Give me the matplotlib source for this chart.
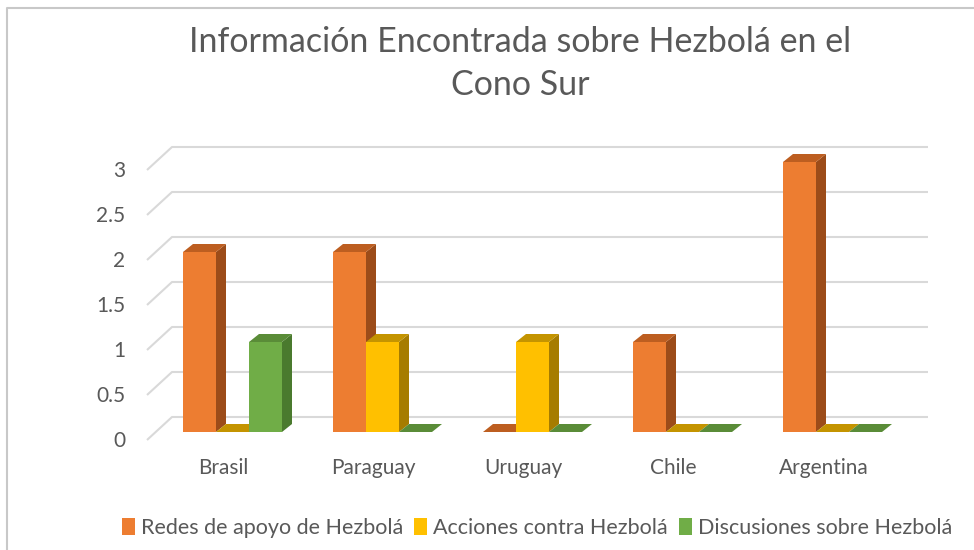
import matplotlib

matplotlib.use("Agg")
import matplotlib.pyplot as plt
from matplotlib.lines import Line2D
from matplotlib.patches import Patch

plt.rcParams["font.family"] = ["Lato", "DejaVu Sans"]

# --- data ---
categories = ["Brasil", "Paraguay", "Uruguay", "Chile", "Argentina"]
series_names = [
    "Redes de apoyo de Hezbolá",
    "Acciones contra Hezbolá",
    "Discusiones sobre Hezbolá",
]
redes = [2, 2, 0, 1, 3]
acciones = [0, 1, 1, 0, 0]
discusiones = [1, 0, 0, 0, 0]
y_ticks = [0, 0.5, 1, 1.5, 2, 2.5, 3]
y_tick_labels = ["0", "0.5", "1", "1.5", "2", "2.5", "3"]
title = "Información Encontrada sobre Hezbolá en el\nCono Sur"

# colours per series: front face, side face, top face
front_colors = ["#ED7D31", "#FFC000", "#70AD47"]
side_colors = ["#9C4C19", "#A67C00", "#4A7A2E"]
top_colors = ["#BD5E20", "#C49400", "#5A8C38"]
TEXT = "#595959"
GRID = "#D9D9D9"

W, H = 974, 550
X0_PX, X_SCALE = 232.5, 150.0   # pixel of category 0, pixels per category
Y0_PX, Y_SCALE = 432.0, 90.0    # pixel of value 0 (front plane), pixels per unit


def px2x(px):
    return (px - X0_PX) / X_SCALE


def py2y(py):
    return (Y0_PX - py) / Y_SCALE


BAR_W = 0.22
DX = 10 / X_SCALE   # bar depth offset
DY = 8 / Y_SCALE

fig = plt.figure(figsize=(W / 100, H / 100), dpi=100)
ax = fig.add_axes([0, 0, 1, 1])
ax.set_xlim(px2x(0), px2x(W))
ax.set_ylim(py2y(H), py2y(0))
ax.axis("off")

# --- back wall / side wall gridlines ---
side_x, back_x, right_x = px2x(147), px2x(172), px2x(928)
side_dy, back_dy = -8 / Y_SCALE, 15 / Y_SCALE
for v, lab in zip(y_ticks, y_tick_labels):
    ax.plot([side_x, back_x, right_x], [v + side_dy, v + back_dy, v + back_dy],
            color=GRID, lw=1.5, zorder=1, solid_capstyle="butt")
    ax.text(px2x(125), v - 9 / Y_SCALE, lab, ha="right", va="center",
            fontsize=15, color=TEXT)

# --- 3D-looking bars ---
all_series = [redes, acciones, discusiones]
z = 3
for i, cat in enumerate(categories):
    for j, values in enumerate(all_series):
        v = values[i]
        x = i + (j - 1) * BAR_W
        left, right = x - BAR_W / 2, x + BAR_W / 2
        if v > 0:
            ax.bar(x, v, width=BAR_W, color=front_colors[j], zorder=z)
            ax.fill([right, right + DX, right + DX, right],
                    [0, DY, v + DY, v], color=side_colors[j], lw=0, zorder=z)
        ax.fill([left, right, right + DX, left + DX],
                [v, v, v + DY, v + DY], color=top_colors[j], lw=0, zorder=z)
        z += 1
    ax.text(i - 9 / X_SCALE, py2y(468), cat, ha="center", va="center",
            fontsize=15, color=TEXT)

# --- title (two lines, Excel-style) ---
title_lines = title.split("\n")
fig.text(520 / W, 1 - 42 / H, title_lines[0], ha="center", va="center",
         fontsize=24.5, color=TEXT)
fig.text(520 / W, 1 - 85 / H, title_lines[1], ha="center", va="center",
         fontsize=24.5, color=TEXT)

# --- legend ---
handles = [Patch(facecolor=c, edgecolor="none") for c in front_colors]
fig.legend(handles, series_names, loc="center", ncol=3, frameon=False,
           bbox_to_anchor=(537 / W, 1 - 528 / H), fontsize=15.5,
           handlelength=0.6, handleheight=0.8, handletextpad=0.3,
           columnspacing=0.5, labelcolor=TEXT)

# --- chart border (left and top edges visible) ---
bx, by = 7 / W, 1 - 8 / H
fig.add_artist(Line2D([bx, bx, 1], [0, by, by], transform=fig.transFigure,
                      color="#C8C8C8", lw=1.5))

fig.savefig("out.png", dpi=100)
